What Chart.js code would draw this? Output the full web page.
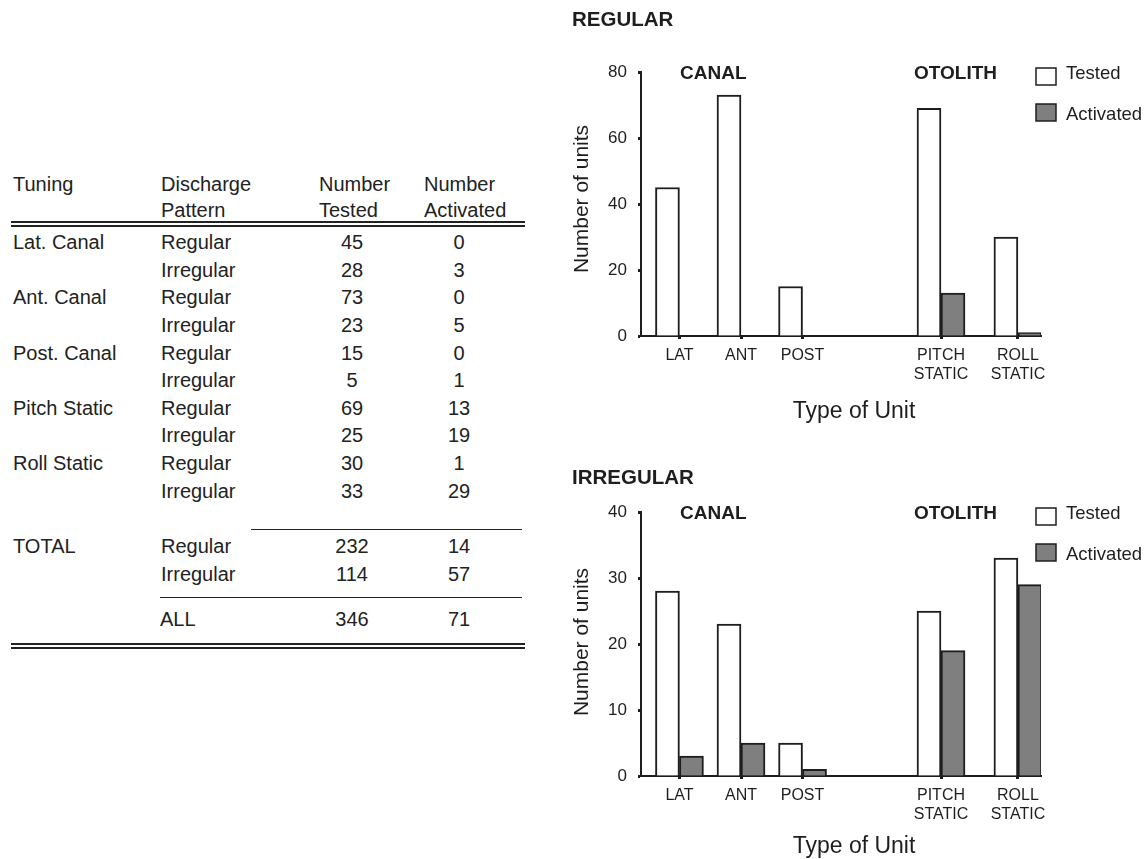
<!DOCTYPE html>
<html><head><meta charset="utf-8">
<script src="https://cdn.jsdelivr.net/npm/chart.js@4"></script>
<style>
html,body{margin:0;padding:0;background:#fff;}
body{width:1146px;height:859px;position:relative;overflow:hidden;font-family:"Liberation Sans",Arial,sans-serif;color:#222;}
.t{position:absolute;font-size:20px;line-height:24px;white-space:nowrap;}
.c{text-align:center;width:100px;}
.rule{position:absolute;background:#222;}
canvas{position:absolute;}
</style></head><body>
<div id="table"></div>
<canvas id="cReg" width="586" height="430" style="left:560px;top:0px;width:586px;height:430px"></canvas>
<canvas id="cIrr" width="586" height="429" style="left:560px;top:430px;width:586px;height:429px"></canvas>
<script>
// ---------- data ----------
const unitTypes = ['LAT', 'ANT', 'POST', ['PITCH', 'STATIC'], ['ROLL', 'STATIC']];
const tuningNames = ['Lat. Canal', 'Ant. Canal', 'Post. Canal', 'Pitch Static', 'Roll Static'];
const patternNames = ['Regular', 'Irregular'];
const regularTested = [45, 73, 15, 69, 30];
const regularActivated = [0, 0, 0, 13, 1];
const irregularTested = [28, 23, 5, 25, 33];
const irregularActivated = [3, 5, 1, 19, 29];
const totalTested = [232, 114];
const totalActivated = [14, 57];
const allTested = 346;
const allActivated = 71;
const seriesNames = ['Tested', 'Activated'];
const groupNames = ['CANAL', 'OTOLITH'];
const yTicksRegular = [0, 20, 40, 60, 80];
const yTicksIrregular = [0, 10, 20, 30, 40];
const headerLine1 = ['Tuning', 'Discharge', 'Number', 'Number'];
const headerLine2 = ['', 'Pattern', 'Tested', 'Activated'];
const panelTitles = ['REGULAR', 'IRREGULAR'];
const yAxisTitle = 'Number of units';
const xAxisTitle = 'Type of Unit';

// ---------- layout (category slots on the x axis) ----------
const slotGaps = [2, 3, 3, 8, 4];
const slotCount = 26;

// ---------- table ----------
const tbl = document.getElementById('table');
function text(x, cy, s, center) {
  const d = document.createElement('div');
  d.className = 't' + (center ? ' c' : '');
  d.textContent = s;
  d.style.left = (center ? x - 50 : x) + 'px';
  d.style.top = (cy - 12) + 'px';
  tbl.appendChild(d);
}
function rule(x1, x2, y, h) {
  const d = document.createElement('div');
  d.className = 'rule';
  d.style.left = x1 + 'px'; d.style.width = (x2 - x1) + 'px';
  d.style.top = y + 'px'; d.style.height = h + 'px';
  tbl.appendChild(d);
}
const colX = [13, 161, 319, 424];
const numX = [352, 459];
headerLine1.forEach((s, i) => text(colX[i], 184, s));
headerLine2.forEach((s, i) => { if (s) text(colX[i], 210, s); });
rule(11, 525, 221, 2);
rule(11, 525, 225, 1.5);
for (let r = 0; r < 10; r++) {
  const t = Math.floor(r / 2), p = r % 2;
  const cy = 242 + 27.63 * r;
  if (p === 0) text(colX[0], cy, tuningNames[t]);
  text(colX[1], cy, patternNames[p]);
  text(numX[0], cy, String(p === 0 ? regularTested[t] : irregularTested[t]), true);
  text(numX[1], cy, String(p === 0 ? regularActivated[t] : irregularActivated[t]), true);
}
rule(251, 522, 529, 1);
text(colX[0], 545.7, 'TOTAL');
patternNames.forEach((s, p) => {
  const cy = 545.7 + 28.3 * p;
  text(colX[1], cy, s);
  text(numX[0], cy, String(totalTested[p]), true);
  text(numX[1], cy, String(totalActivated[p]), true);
});
rule(160, 522, 596.5, 1);
text(160, 619, 'ALL');
text(numX[0], 619, String(allTested), true);
text(numX[1], 619, String(allActivated), true);
rule(11, 525, 643, 2);
rule(11, 525, 647, 1.5);

// ---------- charts ----------
function buildSlots(values) {
  const labels = new Array(slotCount).fill('');
  const data = new Array(slotCount).fill(null);
  let idx = 0;
  values.forEach((v, i) => {
    idx += slotGaps[i];
    labels[idx] = unitTypes[i];
    data[idx] = v;
    idx++;
  });
  return { labels, data };
}

const FONT = '"Liberation Sans", Arial, sans-serif';
const INK = '#1e1e1e';

const decor = {
  id: 'decor',
  afterDraw(chart, args, o) {
    const ctx = chart.ctx, a = chart.chartArea;
    ctx.save();
    ctx.fillStyle = INK;
    ctx.textBaseline = 'middle';
    ctx.textAlign = 'left';
    ctx.font = 'bold 20.5px ' + FONT;
    ctx.fillText(o.title, 12, o.titleY);
    ctx.font = 'bold 19px ' + FONT;
    ctx.fillText(groupNames[0], a.left + 39, a.top + 2);
    ctx.fillText(groupNames[1], a.left + 273, a.top + 2);
    // y title
    ctx.font = '21px ' + FONT;
    ctx.save();
    ctx.translate(22, o.yTitleY);
    ctx.rotate(-Math.PI / 2);
    ctx.textAlign = 'center';
    ctx.fillText(yAxisTitle, 0, 0);
    ctx.restore();
    // x title
    ctx.font = '23px ' + FONT;
    ctx.textAlign = 'center';
    ctx.fillText(xAxisTitle, (a.left + a.right) / 2 + 13, a.bottom + o.xTitleOff);
    // legend
    ctx.textAlign = 'left';
    ctx.font = '18.5px ' + FONT;
    const boxTops = [a.top - 4, a.top + 32];
    const textYs = [a.top + 2, a.top + 43];
    chart.data.datasets.forEach((ds, i) => {
      ctx.fillStyle = ds.backgroundColor;
      ctx.fillRect(a.right - 5, boxTops[i], 20, 17);
      ctx.strokeStyle = INK;
      ctx.lineWidth = 1.5;
      ctx.strokeRect(a.right - 5, boxTops[i], 20, 17);
      ctx.fillStyle = INK;
      ctx.fillText(ds.label, a.right + 25, textYs[i]);
    });
    ctx.restore();
  }
};

function makeChart(id, title, tested, activated, yTicks, g) {
  const t = buildSlots(tested), act = buildSlots(activated);
  return new Chart(document.getElementById(id), {
    type: 'bar',
    data: {
      labels: t.labels,
      datasets: [
        { label: seriesNames[0], data: t.data, backgroundColor: '#ffffff', borderColor: INK, borderWidth: 2, barThickness: 24 },
        { label: seriesNames[1], data: act.data, backgroundColor: '#7f7f7f', borderColor: INK, borderWidth: 2, barThickness: 24 }
      ]
    },
    options: {
      responsive: false,
      devicePixelRatio: 1,
      animation: false,
      layout: { padding: { left: 0, right: 105, top: g.top, bottom: 0 } },
      plugins: {
        legend: { display: false },
        tooltip: { enabled: false },
        decor: { title: title, titleY: g.titleY, yTitleY: g.yTitleY, xTitleOff: g.xTitleOff }
      },
      scales: {
        x: {
          afterFit(s) { s.height = g.xAxisH; },
          grid: {
            offset: false, drawOnChartArea: false, drawTicks: true, tickLength: 3, tickWidth: 3,
            tickColor: (c) => (c.tick && c.tick.label !== '' && c.tick.label != null) ? INK : 'rgba(0,0,0,0)'
          },
          border: { display: true, color: INK, width: 2 },
          ticks: { autoSkip: false, maxRotation: 0, minRotation: 0, padding: 7, color: INK, font: { family: FONT, size: 16, lineHeight: 1.2 } }
        },
        y: {
          min: yTicks[0], max: yTicks[yTicks.length - 1],
          afterFit(s) { s.width = 81; },
          afterBuildTicks(s) { s.ticks = yTicks.map(v => ({ value: v })); },
          grid: { drawOnChartArea: false, drawTicks: true, tickLength: 3, tickWidth: 3, tickColor: INK },
          border: { display: true, color: INK, width: 2 },
          ticks: { padding: 11, color: INK, font: { family: FONT, size: 17 } }
        }
      }
    },
    plugins: [decor]
  });
}

makeChart('cReg', panelTitles[0], regularTested, regularActivated, yTicksRegular,
  { top: 72, xAxisH: 94, titleY: 20, yTitleY: 199, xTitleOff: 76 });
makeChart('cIrr', panelTitles[1], irregularTested, irregularActivated, yTicksIrregular,
  { top: 82, xAxisH: 83, titleY: 48, yTitleY: 212, xTitleOff: 71 });
</script>
</body></html>
